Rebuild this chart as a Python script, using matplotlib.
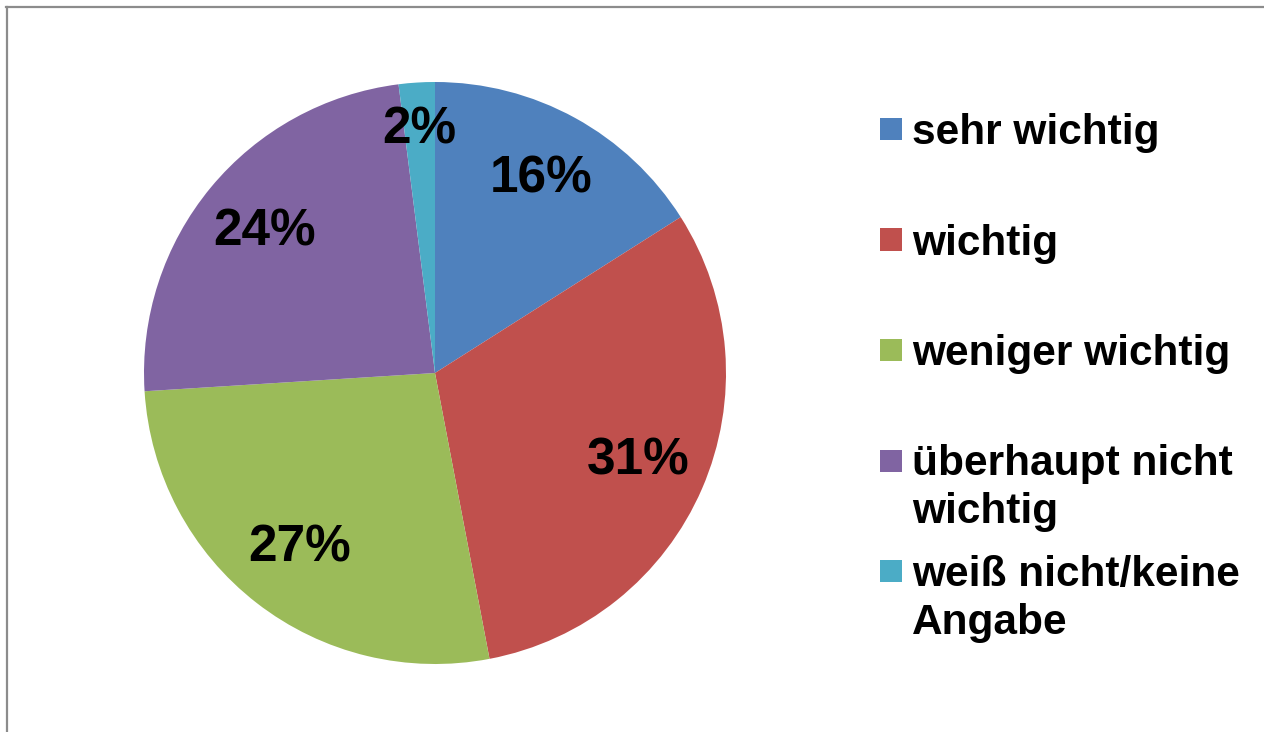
import matplotlib
matplotlib.use("Agg")
import matplotlib.pyplot as plt
from matplotlib.lines import Line2D
from matplotlib.patches import Rectangle

categories = ["sehr wichtig", "wichtig", "weniger wichtig",
              "überhaupt nicht\nwichtig", "weiß nicht/keine\nAngabe"]
shares = [16, 31, 27, 24, 2]
colors = ["#4F81BD", "#C0504D", "#9BBB59", "#8064A2", "#4BACC6"]

plt.rcParams["font.family"] = ["Liberation Sans", "DejaVu Sans"]

W, H = 1264, 732
fig = plt.figure(figsize=(W / 100, H / 100), dpi=100)

# pie axes placed in pixel terms: centre (435, 373), radius 291
cx, cy, r = 435, 373, 291
ax = fig.add_axes([(cx - r) / W, (H - cy - r) / H, 2 * r / W, 2 * r / H])
wedges, texts, autotexts = ax.pie(
    shares, colors=colors, startangle=90, counterclock=False,
    autopct=lambda p: f"{p:.0f}%", pctdistance=0.76,
    textprops=dict(fontsize=37, fontweight="bold", color="black"),
)
# small slice label sits further out
for w, t, v in zip(wedges, autotexts, shares):
    if v < 5:
        x, y = t.get_position()
        t.set_position((x * 1.1, y * 1.1))
ax.set_xlim(-1, 1)
ax.set_ylim(-1, 1)
ax.set_aspect("equal")

# manual legend, Excel style: first line of each entry on a fixed grid,
# wrapped lines hang below
x_box, x_txt = 880, 912
for i, (lab, col) in enumerate(zip(categories, colors)):
    base = 144 + 110.5 * i
    fig.add_artist(Rectangle((x_box / W, (H - base + 4) / H), 22 / W, 22 / H,
                             transform=fig.transFigure, facecolor=col,
                             edgecolor="none"))
    for j, line in enumerate(lab.split("\n")):
        fig.text(x_txt / W, (H - base - 48 * j) / H, line, fontsize=30.5,
                 fontweight="bold", va="baseline", ha="left")

# chart-area border (only left and top visible)
fig.add_artist(Line2D([7 / W, 7 / W], [0, (H - 6.5) / H], transform=fig.transFigure,
                      color="#8c8c8c", lw=1.6))
fig.add_artist(Line2D([6 / W, 1], [(H - 6.5) / H, (H - 6.5) / H], transform=fig.transFigure,
                      color="#8c8c8c", lw=1.6))

fig.savefig("out.png", dpi=100)
